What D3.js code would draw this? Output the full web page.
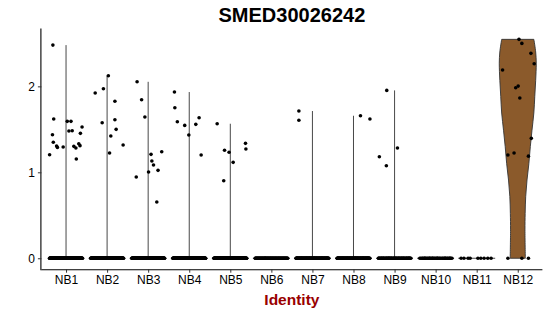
<!DOCTYPE html>
<html>
<head>
<meta charset="utf-8">
<script src="https://cdn.jsdelivr.net/npm/d3@7"></script>
<style>
  html, body { margin: 0; padding: 0; background: #fff; }
  svg { display: block; font-family: "Liberation Sans", Arial, sans-serif; }
</style>
</head>
<body>
<svg id="chart" width="550" height="316"></svg>
<script>
// ---------- data ----------
const title = "SMED30026242";
const xTitle = "Identity";
const categories = ["NB1","NB2","NB3","NB4","NB5","NB6","NB7","NB8","NB9","NB10","NB11","NB12"];
const yTicks = [0, 1, 2];

// expressed (non-zero) values per cluster, with the horizontal jitter (category units)
const valNB1 = [2.48, 1.62, 1.437, 1.349, 1.306, 1.29, 1.205, 1.294, 1.593, 1.593, 1.48, 1.484, 1.302, 1.283, 1.155, 1.333, 1.31, 1.453, 1.527];
const jitNB1 = [-0.32, -0.30, -0.33, -0.31, -0.23, -0.21, -0.40, -0.07, 0.03, 0.12, 0.07, 0.15, 0.19, 0.24, 0.25, 0.31, 0.34, 0.35, 0.39];
const valNB2 = [1.922, 1.972, 2.123, 1.826, 1.612, 1.50, 1.577, 1.422, 1.224, 1.317];
const jitNB2 = [-0.29, -0.09, 0.03, 0.19, 0.19, 0.22, -0.12, 0.09, 0.06, 0.39];
const valNB3 = [2.053, 1.844, 1.643, 1.209, 1.131, 1.085, 1.003, 1.023, 1.240, 0.945, 0.655];
const jitNB3 = [-0.27, -0.16, -0.08, 0.07, 0.09, 0.13, 0.01, 0.24, 0.33, -0.29, 0.21];
const valNB4 = [1.934, 1.751, 1.588, 1.546, 1.434, 1.558, 1.635, 1.201];
const jitNB4 = [-0.36, -0.35, -0.29, -0.11, -0.01, 0.16, 0.24, 0.29];
const valNB5 = [1.565, 1.256, 1.233, 1.116, 0.902, 1.337, 1.271];
const jitNB5 = [-0.32, -0.14, -0.03, 0.07, -0.16, 0.37, 0.38];
const valNB6 = [];
const jitNB6 = [];
const valNB7 = [1.713, 1.605];
const jitNB7 = [-0.33, -0.33];
const valNB8 = [1.658, 1.620];
const jitNB8 = [0.17, 0.40];
const valNB9 = [1.953, 1.283, 1.181, 1.077];
const jitNB9 = [-0.19, 0.07, -0.37, -0.20];
const valNB10 = [];
const jitNB10 = [];
const valNB11 = [];
const jitNB11 = [];
const valNB12 = [2.547, 2.50, 2.384, 2.263, 2.19, 1.984, 2.003, 1.864, 1.395, 1.201, 1.224, 1.188];
const jitNB12 = [0.03, 0.10, 0.32, 0.40, -0.37, -0.05, 0.01, 0.05, 0.33, -0.24, -0.09, 0.26];

// number of cells with zero expression per cluster
const zeroCounts = [220, 200, 200, 200, 180, 90, 130, 130, 70, 40, 9, 3];
// sparse clusters: jitter of zero cells
const zeroJitNB11 = [-0.38, -0.31, -0.21, -0.16, 0.03, 0.10, 0.18, 0.27, 0.35];
const zeroJitNB12 = [-0.24, 0.10, 0.26];

// NB12 violin density profile (value, relative width)
const nb12DensityAt = [0, 0.33, 0.52, 0.72, 0.91, 1.10, 1.30, 1.49, 1.69, 1.88, 2.07, 2.27, 2.40, 2.547];
const nb12Density   = [0.41, 0.39, 0.40, 0.43, 0.50, 0.60, 0.68, 0.77, 0.87, 0.92, 0.97, 1.0, 0.97, 0.87];

const values = [valNB1, valNB2, valNB3, valNB4, valNB5, valNB6, valNB7, valNB8, valNB9, valNB10, valNB11, valNB12];
const jitters = [jitNB1, jitNB2, jitNB3, jitNB4, jitNB5, jitNB6, jitNB7, jitNB8, jitNB9, jitNB10, jitNB11, jitNB12];
const sparseZeroJit = { NB11: zeroJitNB11, NB12: zeroJitNB12 };

// ---------- layout ----------
const W = 550, H = 316;
const panel = { left: 41.4, right: 542.4, top: 28.4, bottom: 269.2 };
const svg = d3.select("#chart");

const yMax = d3.max(values.flat());
const pad = yMax * 0.05;
const y = d3.scaleLinear().domain([-pad, yMax + pad]).range([panel.bottom, panel.top]);
const x = d3.scalePoint().domain(categories).range([panel.left, panel.right]).padding(0.6);
const step = x.step();
const halfViolin = 0.45 * step;
const jitterHalf = 0.4;

// ---------- violins ----------
const gV = svg.append("g");
categories.forEach((c, i) => {
  const cx = x(c);
  if (c === "NB12") {
    const prof = nb12DensityAt.map((v, k) => ({ v, d: nb12Density[k] }));
    const area = d3.area()
      .y(d => y(d.v))
      .x0(d => cx - halfViolin * d.d)
      .x1(d => cx + halfViolin * d.d)
      .curve(d3.curveCatmullRom.alpha(0.5));
    gV.append("path")
      .attr("d", area(prof))
      .attr("fill", "#8B5A2B")
      .attr("stroke", "#333")
      .attr("stroke-width", 0.9);
  } else {
    // horizontal spike of the zero-dominated density
    gV.append("line")
      .attr("x1", cx - halfViolin).attr("x2", cx + halfViolin)
      .attr("y1", y(0)).attr("y2", y(0))
      .attr("stroke", "#333").attr("stroke-width", 0.9);
    const mx = d3.max(values[i]);
    if (mx !== undefined) {
      gV.append("line")
        .attr("x1", cx).attr("x2", cx)
        .attr("y1", y(0)).attr("y2", y(mx))
        .attr("stroke", "#333").attr("stroke-width", 0.9);
    }
  }
});

// ---------- jittered points ----------
const gP = svg.append("g");
const r = 1.8;
const golden = 0.6180339887;
categories.forEach((c, i) => {
  const cx = x(c);
  // zero cells
  let zj;
  if (sparseZeroJit[c]) zj = sparseZeroJit[c];
  else zj = d3.range(zeroCounts[i]).map(k => -jitterHalf + 2 * jitterHalf * (((k + 0.5) * golden) % 1));
  zj.forEach(o => {
    gP.append("circle").attr("cx", cx + o * step).attr("cy", y(0)).attr("r", r).attr("fill", "#000");
  });
  values[i].forEach((v, k) => {
    gP.append("circle").attr("cx", cx + jitters[i][k] * step).attr("cy", y(v)).attr("r", r).attr("fill", "#000");
  });
});

// ---------- axes ----------
const xAxis = d3.axisBottom(x).tickSize(3.5).tickPadding(3);
const gx = svg.append("g").attr("transform", `translate(0,${panel.bottom})`).call(xAxis);
gx.select(".domain").attr("d", `M${panel.left},0.5H${panel.right}`).attr("stroke", "#000").attr("stroke-width", 1.1);
gx.selectAll(".tick line").attr("stroke", "#333");
gx.selectAll(".tick text").attr("font-size", 12).attr("fill", "#000")
  .attr("font-family", "Liberation Sans, Arial, sans-serif");

const yAxis = d3.axisLeft(y).tickValues(yTicks).tickFormat(d3.format("d")).tickSize(3.5).tickPadding(3);
const gy = svg.append("g").attr("transform", `translate(${panel.left},0)`).call(yAxis);
gy.select(".domain").attr("d", `M-0.5,${panel.top}V${panel.bottom + 1}`).attr("stroke", "#000").attr("stroke-width", 1.1);
gy.selectAll(".tick line").attr("stroke", "#333");
gy.selectAll(".tick text").attr("font-size", 12).attr("fill", "#000")
  .attr("font-family", "Liberation Sans, Arial, sans-serif");

// ---------- titles ----------
const cxPanel = (panel.left + panel.right) / 2;
svg.append("text")
  .attr("x", cxPanel).attr("y", 21.8)
  .attr("text-anchor", "middle")
  .attr("font-size", 20).attr("font-weight", "bold").attr("fill", "#000")
  .text(title);
svg.append("text")
  .attr("x", cxPanel).attr("y", 305)
  .attr("text-anchor", "middle")
  .attr("font-size", 15.5).attr("font-weight", "bold").attr("fill", "#990000")
  .text(xTitle);
</script>
</body>
</html>
